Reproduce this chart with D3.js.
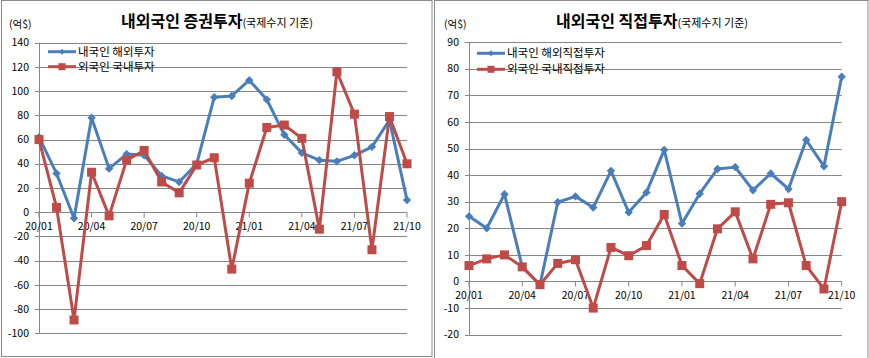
<!DOCTYPE html>
<html><head><meta charset="utf-8">
<script src="https://cdn.jsdelivr.net/npm/d3@7"></script>
<style>
html,body{margin:0;padding:0;background:#fff;}
svg{display:block;}
text{font-family:"Noto Sans CJK KR","Noto Sans",sans-serif;fill:#000;}
</style></head>
<body>
<svg id="c" width="869" height="358"></svg>
<script>
const months = ["20/01","20/02","20/03","20/04","20/05","20/06","20/07","20/08","20/09","20/10","20/11","20/12",
                "21/01","21/02","21/03","21/04","21/05","21/06","21/07","21/08","21/09","21/10"];
const tickMonths = ["20/01","20/04","20/07","20/10","21/01","21/04","21/07","21/10"];

// Left chart: 증권투자
const secTitle = "내외국인 증권투자";
const secSeriesNames = ["내국인 해외투자","외국인 국내투자"];
const secResidentOut = [62,32,-5,78,36,48,47,30,25,40,95,96,109,93,64,49,43,42,47,54,76,10];
const secForeignIn   = [60,4,-89,33,-3,43,51,25,16,39,45,-47,24,70,72,61,-14,116,81,-31,79,40];
const secTicks = [-100,-80,-60,-40,-20,0,20,40,60,80,100,120,140];

// Right chart: 직접투자
const fdiTitle = "내외국인 직접투자";
const fdiSeriesNames = ["내국인 해외직접투자","외국인 국내직접투자"];
const fdiResidentOut = [24.5,20,32.8,5.5,-1.2,29.8,32,27.8,41.6,26,33.5,49.5,21.8,33,42.3,43,34.3,40.6,34.8,53.2,43.3,77];
const fdiForeignIn   = [6,8.5,10,5.5,-1.2,6.8,8.2,-10,12.8,9.7,13.5,25.2,6,-0.8,19.8,26.2,8.5,29,29.6,6,-2.8,30];
const fdiTicks = [-20,-10,0,10,20,30,40,50,60,70,80,90];

const subTitle = "(국제수지 기준)";
const unitLabel = "(억$)";

const BLUE = "#4A7EBB", RED = "#BE4B48", GRID = "#868686";
const svg = d3.select("#c");

// panel frames
svg.append("rect").attr("x",1.5).attr("y",0.5).attr("width",430.5).attr("height",356)
  .attr("fill","none").attr("stroke","#8a8a8a");
svg.append("rect").attr("x",434.5).attr("y",0.5).attr("width",433.5).attr("height",370)
  .attr("fill","none").attr("stroke","#8a8a8a");

function drawChart(o){
  const g = svg.append("g");
  const x = d3.scalePoint().domain(months).range([o.x0, o.x1]);
  const y = d3.scaleLinear().domain(o.domain).range([o.yb, o.yt]);

  // title
  const t = g.append("text").attr("x", o.tx).attr("y", 27);
  t.append("tspan").attr("font-size",16).attr("font-weight","bold").text(o.title);
  t.append("tspan").attr("font-size",11).text(o.sub);
  g.append("text").attr("x", o.ux).attr("y", 28).attr("font-size",10.5).text(unitLabel);

  // gridlines
  g.selectAll("line.grid").data(o.ticks).join("line").attr("class","grid")
    .attr("x1", o.x0-4).attr("x2", o.x1)
    .attr("y1", d=>Math.round(y(d))+0.5).attr("y2", d=>Math.round(y(d))+0.5)
    .attr("stroke", GRID).attr("stroke-width",1);
  // y axis line
  g.append("line").attr("x1",o.x0+0.5).attr("x2",o.x0+0.5)
    .attr("y1",y(o.domain[1])).attr("y2",y(o.domain[0])).attr("stroke",GRID);
  // y labels
  g.selectAll("text.yl").data(o.ticks).join("text").attr("class","yl")
    .attr("x", o.x0-10).attr("y", d=>y(d)).attr("dy","0.35em")
    .attr("text-anchor","end").attr("font-size",10.5).text(d=>d);
  // x ticks & labels
  const y0 = Math.round(y(0))+0.5;
  g.selectAll("line.xt").data(tickMonths).join("line").attr("class","xt")
    .attr("x1", d=>x(d)).attr("x2", d=>x(d)).attr("y1", y0).attr("y2", y0+5)
    .attr("stroke", GRID);
  g.selectAll("text.xl").data(tickMonths).join("text").attr("class","xl")
    .attr("x", d=>x(d)).attr("y", y0+14).attr("dy","0.35em")
    .attr("text-anchor","middle").attr("font-size",10.5).text(d=>d);

  const line = d3.line().x((d,i)=>x(months[i])).y(d=>y(d));
  // series 1 (blue, diamonds)
  g.append("path").datum(o.s1).attr("d", line).attr("fill","none")
    .attr("stroke", BLUE).attr("stroke-width",3).attr("stroke-linejoin","round");
  g.selectAll("path.dm").data(o.s1).join("path").attr("class","dm")
    .attr("d", d3.symbol(d3.symbolDiamond2, 45))
    .attr("transform",(d,i)=>`translate(${x(months[i])},${y(d)})`)
    .attr("fill", BLUE);
  // series 2 (red, squares)
  g.append("path").datum(o.s2).attr("d", line).attr("fill","none")
    .attr("stroke", RED).attr("stroke-width",3).attr("stroke-linejoin","round");
  g.selectAll("rect.sq").data(o.s2).join("rect").attr("class","sq")
    .attr("x",(d,i)=>x(months[i])-4.5).attr("y",d=>y(d)-4.5)
    .attr("width",9).attr("height",9).attr("fill", RED);

  // legend
  const lg = [{n:o.names[0], c:BLUE, m:"d", y:o.ly[0]},{n:o.names[1], c:RED, m:"s", y:o.ly[1]}];
  lg.forEach(L=>{
    g.append("line").attr("x1",o.lx).attr("x2",o.lx+28).attr("y1",L.y).attr("y2",L.y)
      .attr("stroke",L.c).attr("stroke-width",3);
    if(L.m==="d"){
      g.append("path").attr("d", d3.symbol(d3.symbolDiamond2, 22))
        .attr("transform",`translate(${o.lx+14},${L.y})`).attr("fill",L.c);
    } else {
      g.append("rect").attr("x",o.lx+10.5).attr("y",L.y-3.5).attr("width",7).attr("height",7).attr("fill",L.c);
    }
    g.append("text").attr("x",o.lx+30).attr("y",L.y).attr("dy","0.35em")
      .attr("font-size",11.5).text(L.n);
  });
}

drawChart({title:secTitle, sub:subTitle, names:secSeriesNames, s1:secResidentOut, s2:secForeignIn,
  ticks:secTicks, domain:[-100,140], x0:39, x1:407, yb:333.3, yt:42.7, tx:121, ux:9,
  lx:48, ly:[51.7,66.7]});
drawChart({title:fdiTitle, sub:subTitle, names:fdiSeriesNames, s1:fdiResidentOut, s2:fdiForeignIn,
  ticks:fdiTicks, domain:[-20,90], x0:469, x1:841.7, yb:334.7, yt:42.1, tx:556, ux:444,
  lx:477, ly:[53.3,69.3]});
</script>
</body></html>
